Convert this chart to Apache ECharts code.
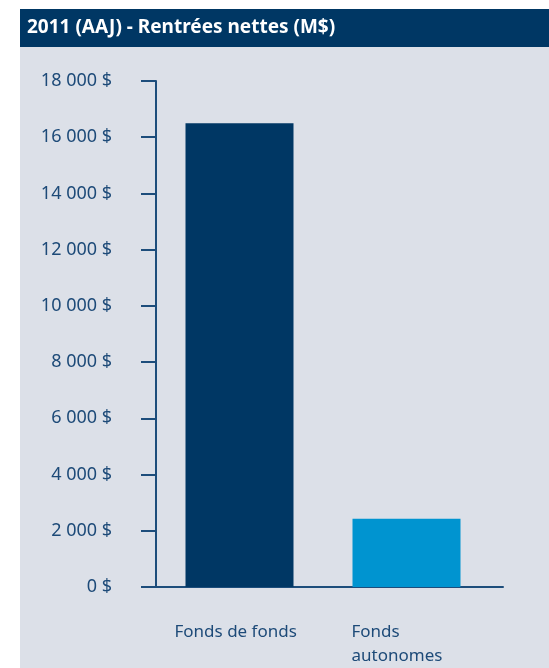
<!DOCTYPE html>
<html><head><meta charset="utf-8">
<script src="https://cdn.jsdelivr.net/npm/echarts@6/dist/echarts.min.js"></script>
<style>html,body{margin:0;padding:0;background:#fff}#c{width:549px;height:668px}</style>
</head><body><div id="c"></div>
<script>
const titleText = '2011 (AAJ) - Rentrées nettes (M$)';
const categories = ['Fonds de fonds', 'Fonds\nautonomes'];
const values = [16500, 2430];
const barColors = ['#003764', '#0094d0'];
const yTicks = [0, 2000, 4000, 6000, 8000, 10000, 12000, 14000, 16000, 18000];

const FONT = 'Noto Sans';
const AXIS = '#1d4d7b';
const TXT = '#1d4a78';
function fmt(v){ return String(v).replace(/\B(?=(\d{3})+(?!\d))/g, ' ') + ' $'; }

const chart = echarts.init(document.getElementById('c'));
chart.setOption({
  animation: false,
  graphic: [
    {type:'rect', left:20, top:47, shape:{width:529, height:621}, style:{fill:'#dce0e8'}, z:-10},
    {type:'rect', left:20, top:9, shape:{width:529, height:38}, style:{fill:'#003764'}, z:-9}
  ],
  title: {text: titleText, left: 27, top: 16, padding: 0,
    textStyle:{color:'#fff', fontFamily: FONT, fontWeight:'bold', fontSize:19, lineHeight:24}},
  grid: [
    {left:156, right:59, top:81, bottom:81},
    {left:142, right:46, top:81, bottom:81}
  ],
  xAxis: [
    {type:'category', gridIndex:0, data: categories,
      axisLine:{show:false}, axisTick:{show:false},
      axisLabel:{interval:0, margin:33, fontFamily:FONT, fontSize:17, color:TXT, lineHeight:24,
        formatter: (v, i) => v.split('\n').map(s => '{' + (i === 0 ? 'a' : 'b') + '|' + s + '}').join('\n'),
        rich:{
          a:{fontFamily:FONT, fontSize:17, color:TXT, lineHeight:24, width:130, align:'left'},
          b:{fontFamily:FONT, fontSize:17, color:TXT, lineHeight:24, width:110, align:'left'}
        }}},
    {type:'category', gridIndex:1, data:['x'], axisLine:{show:true, lineStyle:{color:AXIS, width:2}},
      axisTick:{show:false}, axisLabel:{show:false}}
  ],
  yAxis: [
    {type:'value', gridIndex:0, min:0, max:18000, interval:2000,
      axisLine:{show:true, lineStyle:{color:AXIS, width:2}},
      axisTick:{show:true, length:15, lineStyle:{color:AXIS, width:2}},
      splitLine:{show:false},
      axisLabel:{margin:44, fontFamily:FONT, fontSize:18, color:TXT,
        formatter: v => yTicks.includes(v) ? fmt(v) : ''}},
    {type:'value', gridIndex:1, min:0, max:1, show:false}
  ],
  series: [{
    type:'bar', xAxisIndex:0, yAxisIndex:0, barWidth:108,
    data: values.map((v,i)=>({value:v, itemStyle:{color:barColors[i]}})),
    z: 1
  }]
});
</script></body></html>
